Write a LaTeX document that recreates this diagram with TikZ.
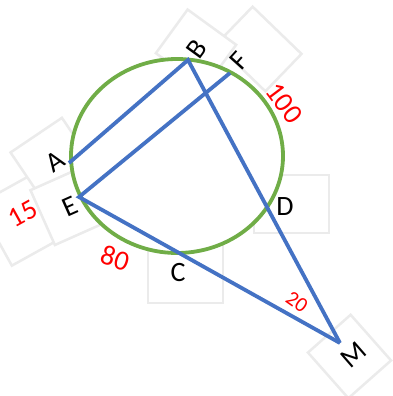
\documentclass[tikz,border=0pt]{standalone}
\usepackage{fontspec}
\setmainfont{Carlito}
\usepackage{tikz}
\usetikzlibrary{positioning}
\definecolor{chordblue}{HTML}{4472C4}
\definecolor{circgreen}{HTML}{70AD47}
\definecolor{boxgray}{HTML}{EBEBEB}
\definecolor{arcred}{HTML}{FF0000}

\begin{document}
\begin{tikzpicture}[x=1pt, y=-1pt,
  lblbox/.style={draw=boxgray, line width=2.5pt, fill=white, inner sep=0pt},
  ptlabel/.style={font=\fontsize{28}{28}\selectfont, inner sep=0pt},
  arclabel/.style={font=\fontsize{28}{28}\selectfont, text=arcred, inner sep=0pt},
  chord/.style={chordblue, line width=3.8pt}]
\useasboundingbox (0,0) rectangle (393,396);
% faint text boxes behind the labels
\foreach \n/\x/\y/\r/\w/\h in {15/22/220/29/62/70, A/53/160/34/62/60, E/71/205/24/62/60,
    F/259/49/46/52/68, B/196/49/54/54/60, C/185.5/272.5/0/75/61,
    D/291.5/204/0/75/58, M/349.5/356.5/41.5/57/61} {
  \node[lblbox, rotate=\r, minimum width=\w pt, minimum height=\h pt] (box\n) at (\x,\y) {};
}
\draw[circgreen, line width=3.8pt, fill=white] (177,156) ellipse [x radius=106pt, y radius=97pt];
\coordinate (A) at (69,163);
\coordinate (B) at (188,60);
\coordinate (E) at (79,197);
\coordinate (F) at (230,73);
\coordinate (M) at (340,343);
\draw[chord] (A) -- (B) -- (M);
\draw[chord] (F) -- (E) -- (M);
% point labels
\node[ptlabel, rotate=54] (labB) at (197,49) {B};
\node[ptlabel, rotate=48] (labF) at (239,61) {F};
\node[ptlabel, rotate=34] (labA) at (55,162) {A};
\node[ptlabel, rotate=24] (labE) at (70,207) {E};
\node[ptlabel] (labC) at (178,273) {C};
\node[ptlabel] (labD) at (285,207) {D};
\node[ptlabel, rotate=41] (labM) at (354,355) {M};
% arc measures
\node[arclabel, rotate=-53] (arc100) at (284,103) {100};
\node[arclabel, rotate=29] (arc15) at (23,214) {15};
\node[arclabel, rotate=-18] (arc80) at (115,258) {80};
\node[arclabel, font=\fontsize{21}{21}\selectfont, rotate=-35] (arc20) at (297,302) {20};
\end{tikzpicture}
\end{document}
